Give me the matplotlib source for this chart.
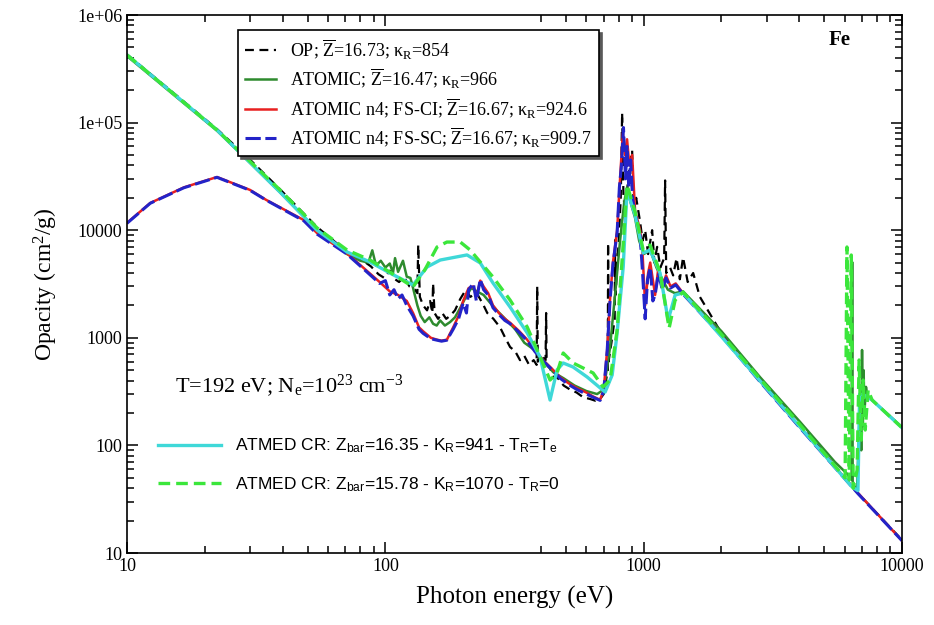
import matplotlib
matplotlib.use("Agg")
import matplotlib.pyplot as plt
from matplotlib.ticker import FixedLocator, FuncFormatter, LogLocator, NullFormatter

plt.rcParams['font.family'] = ['Liberation Serif', 'DejaVu Serif']
plt.rcParams['mathtext.fontset'] = 'custom'
plt.rcParams['mathtext.rm'] = 'Liberation Serif'
plt.rcParams['mathtext.it'] = 'Liberation Serif:italic'
plt.rcParams['mathtext.sf'] = 'Liberation Sans'

# ---- data (photon energy in eV, opacity in cm2/g) ----
op_e = [10, 15, 22.3, 30, 39.1, 54.4, 71, 82, 88, 94, 99, 104, 109, 113, 118, 124, 130, 133, 134, 136,
        140, 145, 149, 152, 153, 155, 160, 166, 172, 178, 186, 195, 205, 213, 226, 240, 248, 262, 278,
        291, 304, 318, 332, 345, 360, 375, 385, 387, 389, 397, 417, 419, 421, 434, 450, 462, 490, 519,
        550, 583, 620, 650, 678, 700, 726, 728, 731, 750, 772, 775, 778, 800, 815, 825, 835, 850, 870,
        890, 902, 915, 935, 968, 990, 1013, 1040, 1078, 1100, 1127, 1160, 1200, 1210, 1222, 1265, 1300,
        1340, 1380, 1420, 1480, 1554, 1650, 2000, 2822, 4032, 6410, 10000]
op_k = [4.3e5, 1.92e5, 8.7e4, 4.5e4, 2.4e4, 1.07e4, 6300, 5200, 4600, 3900, 3600, 4200, 3500, 3300, 3700,
        3000, 2800, 2600, 7300, 2400, 2000, 1800, 2200, 1700, 3200, 1700, 1500, 1700, 1500, 1600, 1800,
        2300, 2800, 2400, 2600, 2000, 1700, 1500, 1250, 1000, 820, 750, 620, 680, 560, 620, 560, 3000,
        600, 700, 620, 1700, 560, 520, 420, 430, 360, 330, 310, 280, 270, 260, 270, 300, 500, 7600, 600,
        900, 1500, 8100, 2500, 8000, 20000, 1.23e5, 20000, 15000, 30000, 45000, 5.5e4, 15000, 20000,
        12000, 8000, 10000, 6000, 10000, 5000, 7000, 4500, 5500, 2.9e4, 4000, 4500, 3800, 5500, 3500,
        5600, 3300, 4000, 2400, 1100, 410, 155, 41, 13.2]

atomic_e = [10, 15, 22.3, 30, 39.1, 54.4, 71, 80, 86, 89, 92, 96, 100, 104, 107, 109, 112, 117, 121, 125,
            128, 133, 137, 142, 148, 153, 158, 163, 170, 178, 186, 195, 205, 215, 226, 240, 255, 270, 291,
            318, 345, 375, 408, 446, 490, 540, 600, 660, 700, 740, 780, 810, 840, 862, 890, 926, 960, 1000,
            1060, 1120, 1160, 1240, 1320, 1420, 2000, 2822, 4032, 5500, 6150, 6300, 6380, 6410, 6440, 6500,
            6600, 6700, 6800, 6900, 6950, 7000, 7050, 7100, 7150, 7250, 7350, 7656, 10000]
atomic_k = [4.15e5, 1.85e5, 8.4e4, 4.2e4, 2.25e4, 1.0e4, 6000, 5200, 5000, 6500, 4700, 5200, 4500, 4900,
            4000, 5500, 4100, 5200, 3700, 3600, 2900, 2000, 1600, 1400, 1550, 1350, 1300, 1450, 1300, 1400,
            1550, 1900, 2400, 2900, 2700, 2500, 2100, 1800, 1500, 1200, 900, 780, 620, 480, 420, 360, 320,
            300, 330, 800, 3000, 8000, 1.8e4, 2.5e4, 1.8e4, 1.3e4, 8000, 6000, 6500, 4500, 3800, 2800, 2600,
            2700, 1150, 430, 165, 70, 54, 50, 48, 5060, 46, 43, 40, 41, 120, 300, 90, 770, 150, 500, 200,
            350, 280, 264, 148]

fsci_e = [10, 12.3, 16.6, 22.3, 29.9, 34.6, 48.4, 54.4, 71, 82, 95, 104, 112, 121, 128, 135, 140, 150,
          158.5, 165, 173, 183, 192, 200, 210, 219, 225, 233, 240, 250, 261, 275, 290, 304, 330, 354, 380,
          408, 440, 475, 510, 552, 600, 637, 678, 700, 722, 741, 760, 789, 810, 830, 845, 862, 880, 902, 926,
          950, 968, 990, 1013, 1040, 1060, 1107, 1140, 1180, 1220, 1270, 1330, 1420, 2000, 2822, 4032, 6760,
          10000]
fsci_k = [11700, 17900, 25000, 31200, 23700, 19100, 12400, 9400, 6100, 4500, 3300, 2700, 2500, 2200, 1700,
          1250, 1150, 1000, 960, 940, 960, 1250, 1600, 2200, 2900, 3000, 2400, 3400, 3000, 2600, 2000, 1700,
          1500, 1380, 1150, 960, 760, 620, 520, 430, 380, 340, 310, 285, 265, 330, 770, 2300, 5000, 10000,
          3.0e4, 8.0e4, 5.0e4, 7.0e4, 4.0e4, 5.0e4, 1.5e4, 1.2e4, 1.0e4, 6000, 2000, 4000, 5000, 2500, 4500,
          3000, 3800, 3000, 3200, 2600, 1050, 395, 147, 36, 13]

fssc_e = [10, 12.3, 16.6, 22.3, 29.9, 34.6, 48.4, 54.4, 71, 82, 95, 100, 104, 108, 112, 116, 121, 128, 135,
          140, 150, 158.5, 165, 173, 183, 192, 200, 206, 210, 219, 225, 233, 240, 250, 261, 275, 290, 304,
          330, 354, 380, 408, 440, 475, 510, 552, 600, 637, 678, 700, 722, 741, 760, 789, 805, 820, 835, 850,
          862, 875, 890, 905, 926, 950, 968, 990, 1013, 1035, 1060, 1085, 1107, 1140, 1180, 1220, 1270, 1330,
          1420, 2000, 2822, 4032, 6760, 10000]
fssc_k = [11600, 17800, 24800, 31000, 23500, 19000, 12200, 9200, 6000, 4400, 3200, 3400, 2500, 2800, 2300,
          2500, 2000, 1600, 1200, 1100, 980, 950, 930, 950, 1200, 1500, 2100, 1700, 2800, 3200, 2200, 3500,
          2800, 2500, 1900, 1650, 1450, 1350, 1120, 940, 740, 610, 510, 420, 370, 330, 300, 280, 262, 320,
          760, 2250, 4800, 9500, 2.5e4, 4.0e4, 9.0e4, 3.0e4, 6.0e4, 2.5e4, 4.5e4, 2.0e4, 1.4e4, 1.1e4, 9000,
          4000, 1500, 3500, 4500, 2200, 2500, 4000, 2800, 3600, 2900, 3100, 2550, 1040, 390, 145, 35.5, 13]

tre_e = [10, 22.3, 39.1, 54.4, 71.1, 87.3, 104, 128, 145, 163, 207, 233, 261, 304, 354, 397, 434, 462, 488,
         533, 604, 709, 755, 789, 833, 862, 926, 995, 1058, 1157, 1243, 1323, 1420, 1976, 2822, 4032, 6410,
         6750, 6850, 7200, 7656, 9930]
tre_k = [4.25e5, 8.53e4, 2.26e4, 1.0e4, 6270, 5060, 4000, 3100, 4550, 5280, 5890, 4960, 3230, 1930, 1110,
         663, 264, 503, 583, 535, 432, 313, 451, 1110, 4550, 23700, 13800, 6140, 6540, 4000, 1460, 2500,
         2610, 1060, 397, 148, 41, 38, 300, 290, 264, 148]

tr0_e = [10, 22.3, 39.1, 54.4, 71.1, 87.3, 104, 128, 142, 158.5, 173, 195, 213, 233, 261, 304, 354, 387,
         434, 462, 488, 533, 637, 696, 741, 789, 825, 862, 926, 995, 1058, 1157, 1254, 1323, 1420, 1976,
         2822, 4032, 6020, 6120, 6245, 6360, 6470, 6700, 6820, 6950, 7070, 7200, 7390, 7656, 9930]
tr0_k = [4.25e5, 8.53e4, 2.37e4, 1.05e4, 6540, 5280, 4080, 2970, 4260, 6980, 7760, 7760, 6540, 5060, 3670,
         2240, 1260, 770, 405, 471, 722, 583, 471, 349, 405, 1180, 5280, 26300, 14800, 6540, 7280, 4080,
         1230, 2240, 2666, 1110, 414, 155, 50, 6980, 47.7, 5880, 40, 59, 622, 112, 405, 139, 327, 264, 148]

top_labels = [
    r"OP; $\overline{\mathrm{Z}}$=16.73; κ$_{\mathrm{R}}$=854",
    r"ATOMIC; $\overline{\mathrm{Z}}$=16.47; κ$_{\mathrm{R}}$=966",
    r"ATOMIC n4; FS-CI; $\overline{\mathrm{Z}}$=16.67; κ$_{\mathrm{R}}$=924.6",
    r"ATOMIC n4; FS-SC; $\overline{\mathrm{Z}}$=16.67; κ$_{\mathrm{R}}$=909.7",
]
atmed_labels = [
    r"ATMED CR: Z$_{\mathsf{bar}}$=16.35 - K$_{\mathsf{R}}$=941 - T$_{\mathsf{R}}$=T$_{\mathsf{e}}$",
    r"ATMED CR: Z$_{\mathsf{bar}}$=15.78 - K$_{\mathsf{R}}$=1070 - T$_{\mathsf{R}}$=0",
]

fig = plt.figure(figsize=(9.34, 6.25), dpi=100)
ax = fig.add_axes([0.136, 0.1152, 0.8298, 0.8608])

l_op, = ax.plot(op_e, op_k, color='black', lw=1.6, dashes=(4, 2.5))
l_at, = ax.plot(atomic_e, atomic_k, color='#2e8b2e', lw=1.8)
l_ci, = ax.plot(fsci_e, fsci_k, color='#e82020', lw=1.8)
l_sc, = ax.plot(fssc_e, fssc_k, color='#2323c8', lw=2.2, dashes=(5, 1.5))
l_te, = ax.plot(tre_e, tre_k, color='#3fd8d8', lw=2.4)
l_t0, = ax.plot(tr0_e, tr0_k, color='#3be63b', lw=2.4, dashes=(3.5, 1.8))

ax.set_xscale('log')
ax.set_yscale('log')
ax.set_xlim(10, 10000)
ax.set_ylim(10, 1e6)

ax.xaxis.set_major_locator(FixedLocator([10, 100, 1000, 10000]))
ax.xaxis.set_minor_locator(FixedLocator([20, 30, 40, 50, 60, 70, 80, 90,
                                         400, 500, 600, 700, 800, 900,
                                         2000, 3000, 4000, 5000, 6000, 7000, 8000, 9000]))
ax.xaxis.set_major_formatter(FuncFormatter(lambda v, p: '%d' % round(v)))
ax.xaxis.set_minor_formatter(NullFormatter())

ylabs = {1e6: '1e+06', 1e5: '1e+05', 1e4: '10000', 1e3: '1000', 100: '100', 10: '10'}
ax.yaxis.set_major_locator(FixedLocator(sorted(ylabs)))
ax.yaxis.set_minor_locator(LogLocator(base=10, subs=range(2, 10), numticks=20))
ax.yaxis.set_major_formatter(FuncFormatter(lambda v, p: ylabs.get(round(v), '')))
ax.yaxis.set_minor_formatter(NullFormatter())

ax.tick_params(which='both', direction='in', top=True, right=True, labelsize=13, width=1.1)
ax.tick_params(which='major', length=8)
ax.tick_params(which='minor', length=5)
for s in ax.spines.values():
    s.set_linewidth(1.2)

ax.set_xlabel('Photon energy (eV)', fontsize=18, labelpad=8)
ax.set_ylabel(r'Opacity (cm$^{2}$/g)', fontsize=17, labelpad=12)

leg1 = ax.legend([l_op, l_at, l_ci, l_sc], top_labels, loc='upper left', bbox_to_anchor=(0.143, 0.972),
                 borderaxespad=0, fontsize=13, handlelength=1.7, labelspacing=0.3, fancybox=False,
                 edgecolor='black', framealpha=1, shadow={'color': '0.35', 'alpha': 1})
leg1.get_frame().set_linewidth(1.2)
ax.add_artist(leg1)

ax.legend([l_te, l_t0], atmed_labels, loc='upper left', bbox_to_anchor=(0.02, 0.245), frameon=False,
          prop={'family': ['Liberation Sans'], 'size': 12.5}, handlelength=3.6, labelspacing=1.15)

ax.text(0.062, 0.30, r"T=192 eV; N$_{\mathrm{e}}$=10$^{23}$ cm$^{-3}$", transform=ax.transAxes,
        fontsize=16)
ax.text(0.92, 0.945, 'Fe', transform=ax.transAxes, fontsize=15, fontweight='bold', ha='center')

fig.savefig('out.png', dpi=100)
